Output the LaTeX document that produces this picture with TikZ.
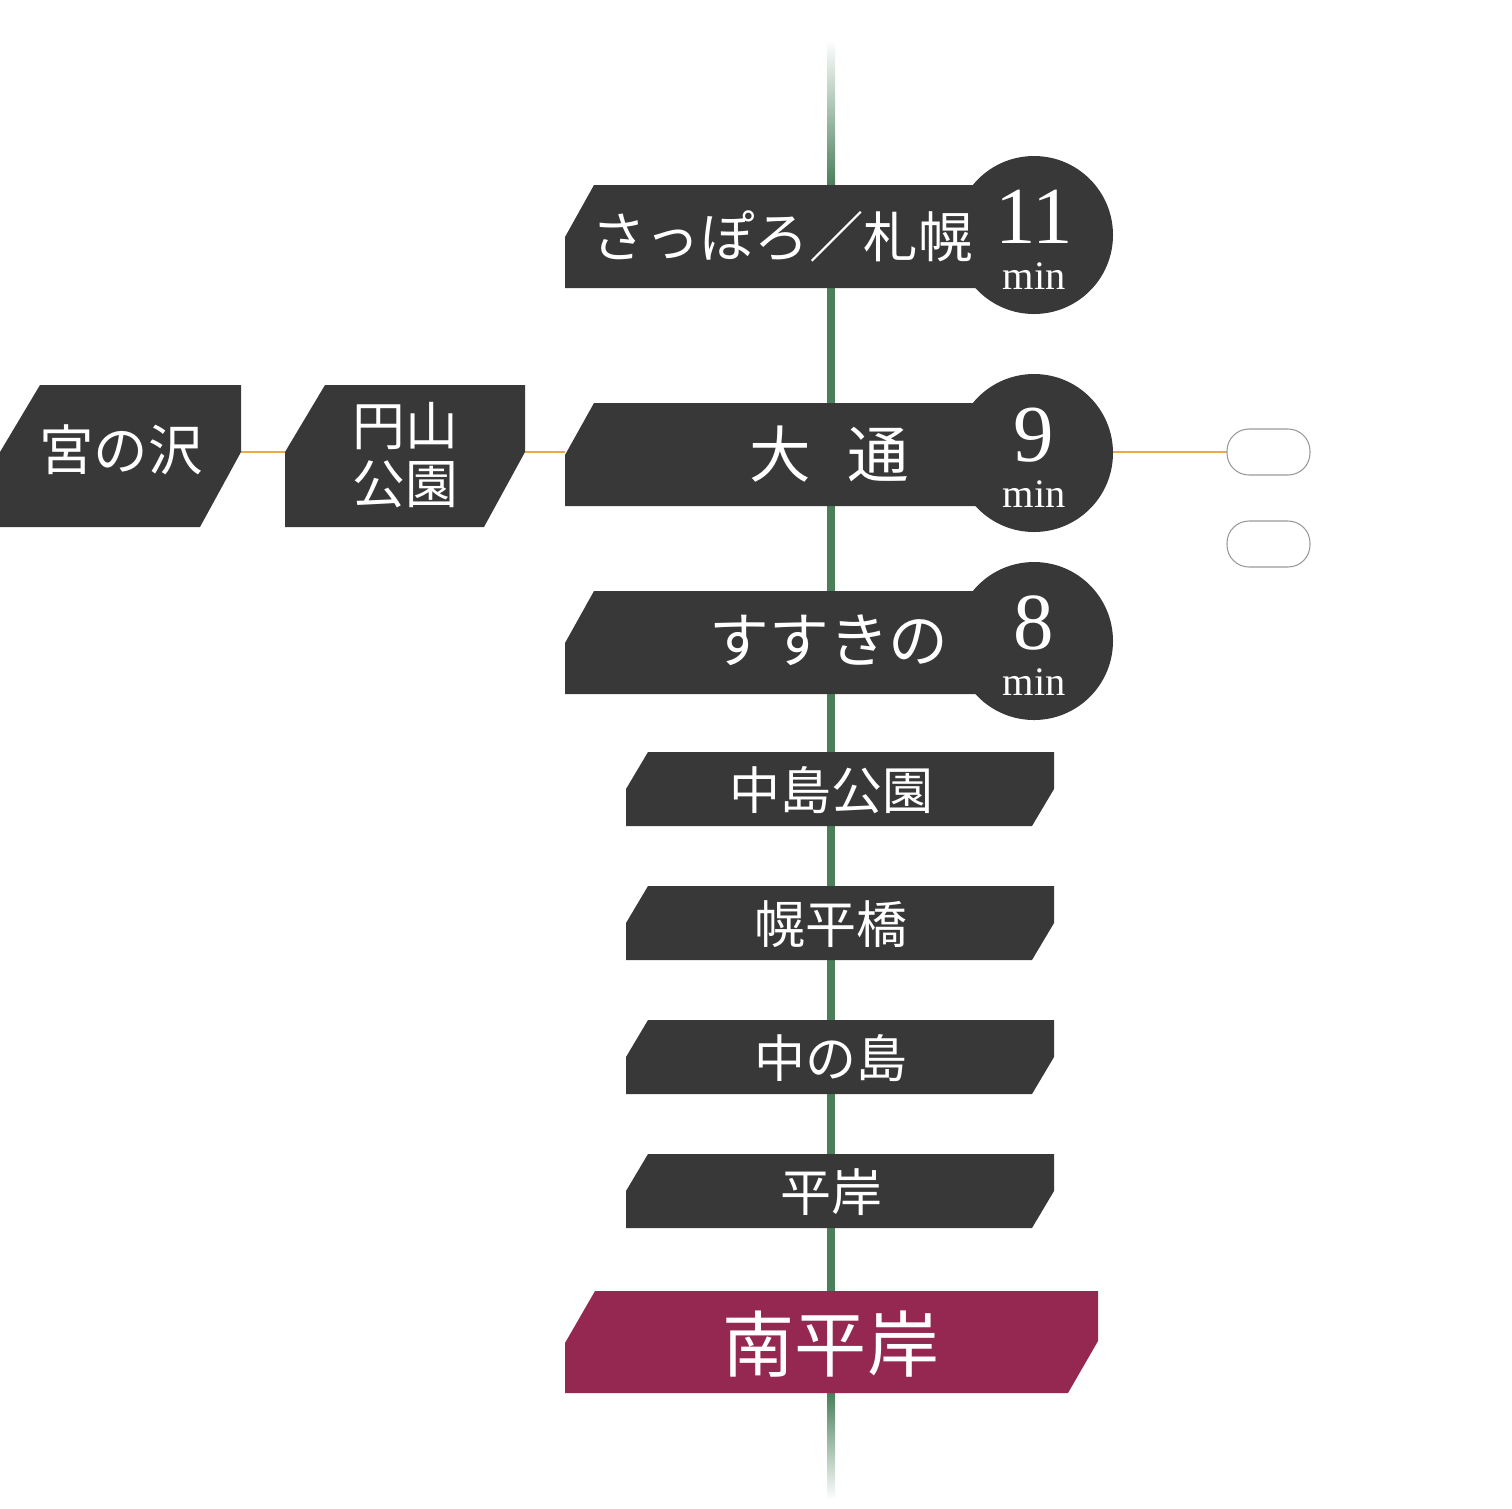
\documentclass[tikz,border=0pt]{standalone}
\usepackage{fontspec}
\setmainfont{Liberation Serif}
\newfontfamily\jp{Noto Sans CJK JP}
\usetikzlibrary{positioning}
\definecolor{boxgray}{HTML}{383838}
\definecolor{linegreen}{HTML}{4A7F5A}
\definecolor{transorange}{HTML}{EBA94A}
\definecolor{homered}{HTML}{952850}
\tikzset{
        stname/.style={text=white, font=\jp\fontsize{15.5}{17}\selectfont, inner sep=0pt},
        stsmall/.style={text=white, font=\jp\fontsize{14.5}{16}\selectfont, inner sep=0pt},
        minnum/.style={text=white, font=\fontsize{23}{23}\selectfont, inner sep=0pt},
        minlbl/.style={text=white, font=\fontsize{11.5}{12}\selectfont, inner sep=0pt},
        transfer/.style={transorange, line width=0.4pt},
        pill/.style={draw=gray!80, line width=0.3pt, rounded corners=0.22cm},
    }
\begin{document}
\begin{tikzpicture}[x=0.01cm, y=-0.01cm]
        \useasboundingbox (0,0) rectangle (1512,1508);
        % green line
        \shade[top color=white, bottom color=linegreen] (827,40) rectangle (835,185);
        \fill[linegreen] (827,185) rectangle (835,1395);
        \shade[top color=linegreen, bottom color=white] (827,1393) rectangle (835,1500);

        % orange transfer line
        \coordinate (tw1) at (241,452);
        \coordinate (tw2) at (285,452);
        \coordinate (tw3) at (525,452);
        \coordinate (tw4) at (565,452);
        \coordinate (te1) at (1113,452);
        \coordinate (te2) at (1227,452);
        \draw[transfer] (tw1) -- (tw2);
        \draw[transfer] (tw3) -- (tw4);
        \draw[transfer] (te1) -- (te2);
        \draw[pill] (1227,429) rectangle (1310,475);
        \draw[pill] (1227,521) rectangle (1310,567);

        % big stations with minutes
        \foreach \y/\n in {185/11, 403/9, 591/8} {
            \fill[boxgray] (565,\y+52) -- (594,\y) -- (1000,\y) -- (1000,\y+103) -- (565,\y+103) -- cycle;
            \fill[boxgray] (1034,\y+50) circle (79);
            \node[minnum] at (1034,\y+32) {\n};
            \node[minlbl] at (1034,\y+91) {min};
        }
        \node[stname, font=\jp\fontsize{15.5}{17}\selectfont] (sapporo) at (782,236) {さっぽろ／札幌};
        \node[stname, font=\jp\fontsize{17.5}{19}\selectfont] (odori) at (829,454) {大\hspace{0.6em}通};
        \node[stname, font=\jp\fontsize{17}{18}\selectfont] (susukino) at (829,640) {すすきの};

        % west branch
        \fill[boxgray] (0,452) -- (40,385) -- (241,385) -- (241,452) -- (200,527) -- (0,527) -- cycle;
        \fill[boxgray] (285,452) -- (325,385) -- (525,385) -- (525,452) -- (484,527) -- (285,527) -- cycle;
        \node[stsmall, font=\jp\fontsize{15.5}{17}\selectfont] (miyanosawa) at (121,450) {宮の沢};
        \node[stsmall, font=\jp\fontsize{15}{16.5}\selectfont, align=center] (maruyama) at (405,455) {円山\\公園};

        % small stations
        \foreach \y/\t/\nm in {752/中島公園/nakajima, 886/幌平橋/horohira, 1020/中の島/nakanoshima, 1154/平岸/hiragishi} {
            \fill[boxgray] (626,\y+37) -- (648,\y) -- (1054,\y) -- (1054,\y+37) -- (1032,\y+74) -- (626,\y+74) -- cycle;
            \node[stsmall] (\nm) at (831,\y+38) {\t};
        }

        % home station
        \fill[homered] (565,1343) -- (595,1291) -- (1098,1291) -- (1098,1341) -- (1068,1393) -- (565,1393) -- cycle;
        \node[stname, font=\jp\fontsize{20.5}{22}\selectfont] (minamihiragishi) at (831,1344) {南平岸};
    \end{tikzpicture}
\end{document}
